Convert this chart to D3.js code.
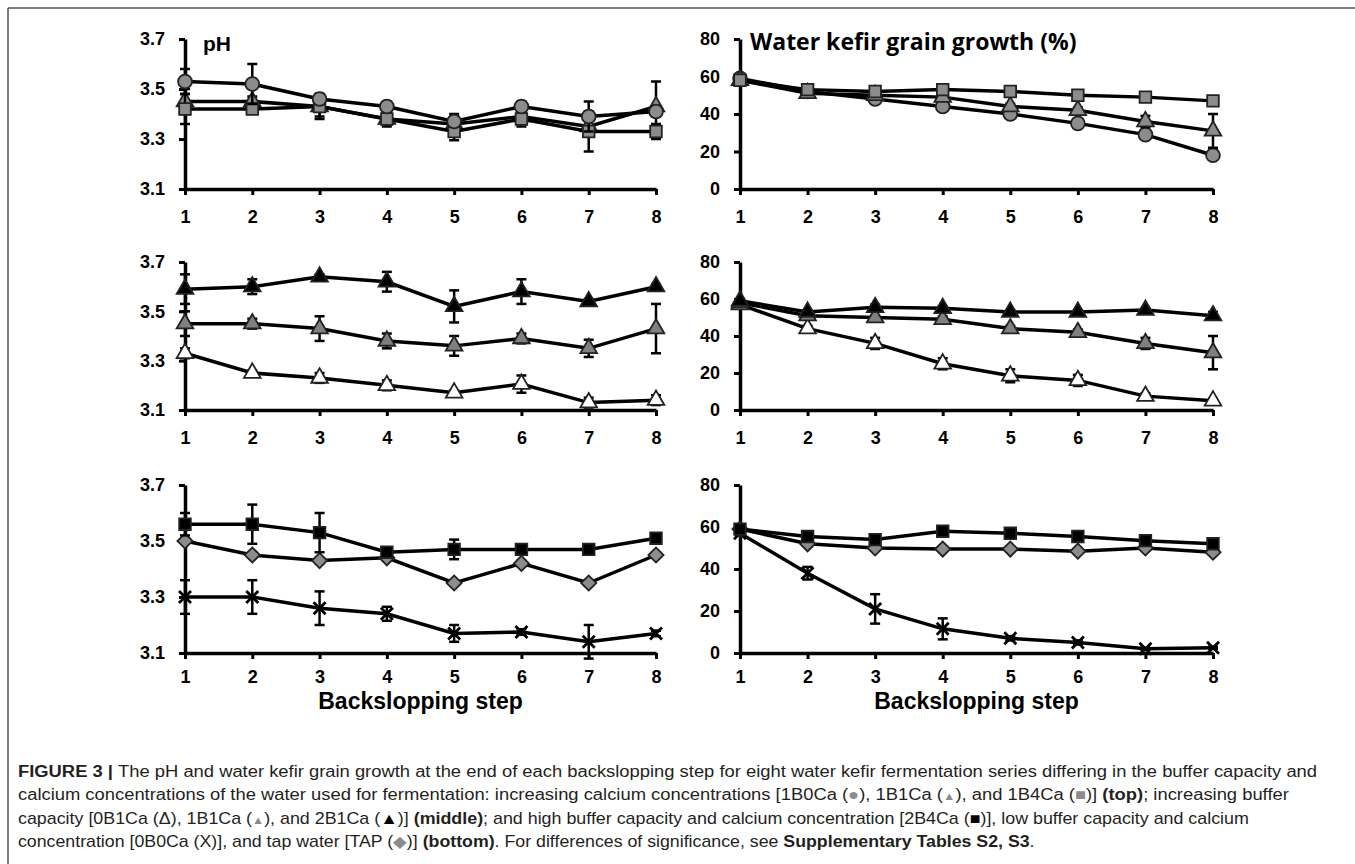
<!DOCTYPE html>
<html>
<head>
<meta charset="utf-8">
<script src="https://cdn.jsdelivr.net/npm/d3@7"></script>
<style>
  body { margin: 0; background: #fff; }
  svg { display: block; }
  .tick text { font-family: "Liberation Sans", Arial, sans-serif; font-weight: bold; font-size: 18px; fill: #000; }
</style>
</head>
<body>
<div id="chart"></div>
<script>
// backslopping steps and axis ticks
var steps = [1, 2, 3, 4, 5, 6, 7, 8];
var phTicks = [3.1, 3.3, 3.5, 3.7];
var growthTicks = [0, 20, 40, 60, 80];

// pH, top row (calcium)
var ph_1B0Ca = [3.53, 3.52, 3.46, 3.43, 3.37, 3.43, 3.39, 3.41];
var ph_1B0Ca_sd = [0.05, 0.08, 0.02, 0.02, 0.02, 0.02, 0.06, 0.02];
var ph_1B1Ca = [3.45, 3.45, 3.43, 3.38, 3.36, 3.39, 3.35, 3.43];
var ph_1B1Ca_sd = [0.05, 0.02, 0.05, 0.03, 0.04, 0.02, 0.035, 0.10];
var ph_1B4Ca = [3.42, 3.42, 3.43, 3.38, 3.33, 3.38, 3.33, 3.33];
var ph_1B4Ca_sd = [0.06, 0.01, 0.04, 0.02, 0.035, 0.03, 0.08, 0.03];
// pH, middle row (buffer capacity)
var ph_0B1Ca = [3.33, 3.25, 3.23, 3.20, 3.17, 3.205, 3.13, 3.14];
var ph_0B1Ca_sd = [0.02, 0.01, 0.02, 0.02, 0.01, 0.035, 0.02, 0.02];
var ph_2B1Ca = [3.59, 3.60, 3.64, 3.62, 3.52, 3.58, 3.54, 3.60];
var ph_2B1Ca_sd = [0.06, 0.03, 0.01, 0.04, 0.065, 0.05, 0.01, 0.01];
// pH, bottom row
var ph_2B4Ca = [3.56, 3.56, 3.53, 3.46, 3.47, 3.47, 3.47, 3.51];
var ph_2B4Ca_sd = [0.04, 0.07, 0.07, 0.01, 0.035, 0.01, 0.01, 0.01];
var ph_TAP = [3.50, 3.45, 3.43, 3.44, 3.35, 3.42, 3.35, 3.45];
var ph_TAP_sd = [0.01, 0.01, 0.01, 0.01, 0.01, 0.01, 0.01, 0.01];
var ph_0B0Ca = [3.30, 3.30, 3.26, 3.24, 3.17, 3.175, 3.14, 3.17];
var ph_0B0Ca_sd = [0.06, 0.06, 0.06, 0.025, 0.03, 0.01, 0.06, 0.01];

// grain growth (%), top row
var gr_1B0Ca = [59, 52, 48, 44, 40, 35, 29, 18];
var gr_1B0Ca_sd = [1, 1, 1, 1, 1, 1.5, 1.5, 2];
var gr_1B1Ca = [58, 51, 50, 49, 44, 42, 36, 31];
var gr_1B1Ca_sd = [1, 1, 1, 1.5, 1.5, 1.5, 3, 9];
var gr_1B4Ca = [58, 53, 52, 53, 52, 50, 49, 47];
var gr_1B4Ca_sd = [1, 1, 1, 1, 1, 1, 1, 1];
// grain growth, middle row
var gr_0B1Ca = [57, 44, 36, 25, 18.5, 16, 7.5, 5];
var gr_0B1Ca_sd = [1, 1.5, 3, 3, 3.5, 3, 1.5, 1];
var gr_2B1Ca = [59, 53, 55.5, 55, 53, 53, 54, 51];
var gr_2B1Ca_sd = [1, 1, 1.5, 1, 1, 1, 1, 2];
// grain growth, bottom row
var gr_2B4Ca = [59, 55.5, 54, 58, 57, 55.5, 53.5, 52];
var gr_2B4Ca_sd = [1, 1, 1, 1, 1, 1, 1, 1];
var gr_TAP = [59, 52, 50, 49.5, 49.5, 48.5, 50, 48];
var gr_TAP_sd = [1, 1, 1, 1, 1, 1, 1, 1];
var gr_0B0Ca = [57, 38, 21, 11.5, 7, 5, 2, 2.5];
var gr_0B0Ca_sd = [1, 3, 7, 5, 1, 1, 0.5, 0.5];

var width = 1355, height = 864;
var gray = "#8c8c8c";

var svg = d3.select("#chart").append("svg")
    .attr("width", width)
    .attr("height", height);

// frame round the figure
svg.append("line").attr("x1", 8).attr("x2", width).attr("y1", 8).attr("y2", 8)
    .style("stroke", "#555").style("stroke-width", 1.5);
svg.append("line").attr("x1", 8).attr("x2", 8).attr("y1", 8).attr("y2", height)
    .style("stroke", "#555").style("stroke-width", 1.5);

var rows = [{top: 39, bottom: 189, pad: 15}, {top: 262, bottom: 410, pad: 15}, {top: 485, bottom: 653, pad: 11}];
var cols = [{left: 185, right: 656}, {left: 740, right: 1213}];

// marker shapes
function markerPath(kind) {
  if (kind == "circle") return d3.symbol().type(d3.symbolCircle).size(150)();
  if (kind == "triangle") return d3.symbol().type(d3.symbolTriangle).size(120)();
  if (kind == "square") return d3.symbol().type(d3.symbolSquare).size(135)();
  if (kind == "diamond") return d3.symbol().type(d3.symbolSquare).size(115)();
  return "M-6,-6L6,6M-6,6L6,-6";
}

var panels = [
  {row: 0, col: 0, ticks: phTicks, series: [
    {v: ph_1B1Ca, sd: ph_1B1Ca_sd, m: "triangle", fill: gray},
    {v: ph_1B4Ca, sd: ph_1B4Ca_sd, m: "square", fill: gray},
    {v: ph_1B0Ca, sd: ph_1B0Ca_sd, m: "circle", fill: gray}]},
  {row: 0, col: 1, ticks: growthTicks, series: [
    {v: gr_1B0Ca, sd: gr_1B0Ca_sd, m: "circle", fill: gray},
    {v: gr_1B1Ca, sd: gr_1B1Ca_sd, m: "triangle", fill: gray},
    {v: gr_1B4Ca, sd: gr_1B4Ca_sd, m: "square", fill: gray}]},
  {row: 1, col: 0, ticks: phTicks, series: [
    {v: ph_0B1Ca, sd: ph_0B1Ca_sd, m: "triangle", fill: "#fff"},
    {v: ph_1B1Ca, sd: ph_1B1Ca_sd, m: "triangle", fill: "#808080"},
    {v: ph_2B1Ca, sd: ph_2B1Ca_sd, m: "triangle", fill: "#000"}]},
  {row: 1, col: 1, ticks: growthTicks, series: [
    {v: gr_0B1Ca, sd: gr_0B1Ca_sd, m: "triangle", fill: "#fff"},
    {v: gr_1B1Ca, sd: gr_1B1Ca_sd, m: "triangle", fill: "#808080"},
    {v: gr_2B1Ca, sd: gr_2B1Ca_sd, m: "triangle", fill: "#000"}]},
  {row: 2, col: 0, ticks: phTicks, series: [
    {v: ph_0B0Ca, sd: ph_0B0Ca_sd, m: "x", fill: "none"},
    {v: ph_TAP, sd: ph_TAP_sd, m: "diamond", fill: gray},
    {v: ph_2B4Ca, sd: ph_2B4Ca_sd, m: "square", fill: "#000"}]},
  {row: 2, col: 1, ticks: growthTicks, series: [
    {v: gr_0B0Ca, sd: gr_0B0Ca_sd, m: "x", fill: "none"},
    {v: gr_TAP, sd: gr_TAP_sd, m: "diamond", fill: gray},
    {v: gr_2B4Ca, sd: gr_2B4Ca_sd, m: "square", fill: "#000"}]}
];

panels.forEach(function(p) {
  var r = rows[p.row], c = cols[p.col];
  var x = d3.scaleLinear().domain([1, 8]).range([c.left, c.right]);
  var y = d3.scaleLinear().domain(d3.extent(p.ticks)).range([r.bottom, r.top]);
  var g = svg.append("g");

  // axes
  g.append("g").attr("transform", "translate(" + c.left + ",0)")
      .call(d3.axisLeft(y).tickValues(p.ticks).tickSize(6).tickSizeOuter(0).tickPadding(14)
        .tickFormat(p.col == 0 ? d3.format(".1f") : d3.format("d")));
  g.append("g").attr("transform", "translate(0," + r.bottom + ")")
      .call(d3.axisBottom(x).tickValues(steps).tickSize(6).tickSizeOuter(0).tickPadding(r.pad)
        .tickFormat(d3.format("d")));
  g.selectAll(".domain").style("stroke", "#000").style("stroke-width", 3.5);
  g.selectAll(".tick line").style("stroke", "#000").style("stroke-width", 3);

  var line = d3.line().x(function(d, i) { return x(steps[i]); }).y(function(d) { return y(d); });

  p.series.forEach(function(s) {
    var sg = g.append("g");
    sg.append("path").datum(s.v)
      .attr("d", line)
      .style("fill", "none").style("stroke", "#000").style("stroke-width", 3.5);

    // error bars
    var eb = sg.selectAll(".err").data(s.v).enter().append("g")
      .attr("transform", function(d, i) { return "translate(" + x(steps[i]) + ",0)"; });
    eb.append("line")
      .attr("y1", function(d, i) { return y(d - s.sd[i]); })
      .attr("y2", function(d, i) { return y(d + s.sd[i]); })
      .style("stroke", "#000").style("stroke-width", 2.5);
    [-1, 1].forEach(function(sign) {
      eb.append("line").attr("x1", -5).attr("x2", 5)
        .attr("y1", function(d, i) { return y(d + sign * s.sd[i]); })
        .attr("y2", function(d, i) { return y(d + sign * s.sd[i]); })
        .style("stroke", "#000").style("stroke-width", 2.5);
    });

    // markers
    sg.selectAll(".mk").data(s.v).enter().append("path")
      .attr("d", markerPath(s.m))
      .attr("transform", function(d, i) {
        return "translate(" + x(steps[i]) + "," + y(d) + ")" + (s.m == "diamond" ? " rotate(45)" : "");
      })
      .style("fill", s.fill)
      .style("stroke", s.m == "x" ? "#000" : "#222")
      .style("stroke-width", s.m == "x" ? 2.8 : 1.8);
  });
});

// panel titles
svg.append("text").attr("x", 203).attr("y", 51).text("pH")
  .style("font-family", "'Liberation Sans', Arial, sans-serif").style("font-weight", "bold").style("font-size", "21px");
svg.append("text").attr("x", 750).attr("y", 50).text("Water kefir grain growth (%)")
  .style("font-family", "'Open Sans', sans-serif").style("font-weight", "bold").style("font-size", "23px");

// x axis titles
cols.forEach(function(c) {
  svg.append("text").attr("x", (c.left + c.right) / 2).attr("y", 709)
    .attr("text-anchor", "middle").text("Backslopping step")
    .style("font-family", "'Liberation Sans', Arial, sans-serif").style("font-weight", "bold").style("font-size", "23px");
});

// caption
var capLines = [
  {w: 1300, parts: [["FIGURE 3 | ", "b"], ["The pH and water kefir grain growth at the end of each backslopping step for eight water kefir fermentation series differing in the buffer capacity and"]]},
  {w: 1272, parts: [["calcium concentrations of the water used for fermentation: increasing calcium concentrations [1B0Ca ("], ["\u25CF", "g"], ["), 1B1Ca ("], ["\u25B2", "gs"], ["), and 1B4Ca ("], ["\u25A0", "g"], [")] "], ["(top)", "b"], ["; increasing buffer"]]},
  {w: 1232, parts: [["capacity [0B1Ca (\u0394), 1B1Ca ("], ["\u25B2", "gs"], ["), and 2B1Ca ("], ["\u25B2", "k"], [")] "], ["(middle)", "b"], ["; and high buffer capacity and calcium concentration [2B4Ca ("], ["\u25A0", "k"], [")], low buffer capacity and calcium"]]},
  {w: 1017, parts: [["concentration [0B0Ca (X)], and tap water [TAP ("], ["\u25C6", "g"], [")] "], ["(bottom)", "b"], [". For differences of significance, see "], ["Supplementary Tables S2, S3", "b"], ["."]]}
];
var capY = [777, 800, 824, 847];

capLines.forEach(function(l, li) {
  var t = svg.append("text").attr("transform", "translate(18," + capY[li] + ")")
    .style("font-family", "'Liberation Sans', Arial, sans-serif").style("font-size", "16px").style("fill", "#231f20");
  l.parts.forEach(function(pt) {
    var ts = t.append("tspan").text(pt[0]);
    if (pt[1] == "b") ts.style("font-weight", "bold");
    if (pt[1] == "g") ts.style("fill", "#8c8c8c");
    if (pt[1] == "gs") ts.style("fill", "#8c8c8c").style("font-size", "11px");
    if (pt[1] == "k") ts.style("fill", "#000");
  });
  var len = t.node().getComputedTextLength();
  t.attr("transform", "translate(18," + capY[li] + ") scale(" + (l.w / len) + ",1)");
});
</script>
</body>
</html>
